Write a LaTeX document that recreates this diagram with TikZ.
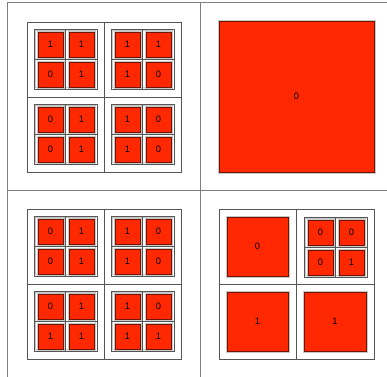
\documentclass[tikz,border=0pt]{standalone}
\usepackage{fontspec}
\setmainfont{Liberation Sans}
\definecolor{vermelho}{RGB}{255,40,0}
\definecolor{bordaverm}{RGB}{110,20,0}
\definecolor{cinzagrade}{RGB}{85,85,85}
\definecolor{cinzaquadro}{RGB}{125,125,125}
\definecolor{cinzaclaro}{RGB}{200,200,200}
\newcounter{folhas}
\tikzset{
  quadro/.style={draw=cinzaquadro, line width=0.8pt},
  grade/.style={draw=cinzagrade, line width=0.6pt},
  halo/.style={draw=cinzaclaro, line width=0.8pt},
  folha/.style={fill=vermelho, draw=bordaverm, line width=0.6pt},
  rotulo/.style={font=\fontsize{8}{9}\selectfont, inner sep=0pt}
}
% caixa com cruz
\newcommand{\grade}[4]{%
  \draw[grade] (#1,#2) rectangle ++(#3,#4);
  \draw[grade] (#1+#3/2,#2) -- ++(0,#4);
  \draw[grade] (#1,#2+#4/2) -- ++(#3,0);
}
% folha vermelha com rotulo
\newcommand{\folha}[5]{%
  \stepcounter{folhas}
  \draw[halo] (#1-1,#2-1) rectangle (#1+#3+1,#2+#4+1);
  \draw[folha] (#1,#2) rectangle ++(#3,#4);
  \node[rotulo] (f\thefolhas) at (#1+#3/2,#2+#4/2) {#5};
}
% bloco 2x2 de folhas
\newcommand{\bloco}[6]{%
  \draw[halo] (#1+1.2,#2+1.2) rectangle ++(60.6,57.6);
  \grade{#1}{#2}{63}{60}
  \folha{#1+4}{#2+3}{25}{25}{#3}
  \folha{#1+35}{#2+3}{25}{25}{#4}
  \folha{#1+4}{#2+33}{25}{25}{#5}
  \folha{#1+35}{#2+33}{25}{25}{#6}
}
\begin{document}
\begin{tikzpicture}[x=0.03cm, y=-0.03cm]
\useasboundingbox (0,0) rectangle (387,377);
% Quadro externo
\draw[quadro] (7,2.5) -- (387,2.5);
\draw[quadro] (7,190) -- (387,190);
\draw[quadro] (7,2.5) -- (7,377);
\draw[quadro] (200,2.5) -- (200,377);

% Painel superior esquerdo
\begin{scope}
\grade{27}{22}{154}{150}
\bloco{34}{29}{1}{1}{0}{1}
\bloco{111}{29}{1}{1}{1}{0}
\bloco{34}{104}{0}{1}{0}{1}
\bloco{111}{104}{1}{0}{1}{0}
\end{scope}

% Painel superior direito
\begin{scope}
\folha{219}{21}{155}{151}{0}
\end{scope}

% Painel inferior esquerdo
\begin{scope}[shift={(0,187)}]
\grade{27}{22}{154}{150}
\bloco{34}{29}{0}{1}{0}{1}
\bloco{111}{29}{1}{0}{1}{0}
\bloco{34}{104}{0}{1}{1}{1}
\bloco{111}{104}{1}{0}{1}{1}
\end{scope}

% Painel inferior direito
\begin{scope}[shift={(0,187)}]
\grade{219}{22}{155}{150}
\folha{227}{30}{61}{59}{0}
\bloco{304}{30}{0}{0}{0}{1}
\folha{227}{105}{61}{59}{1}
\folha{304}{105}{62}{59}{1}
\end{scope}
\end{tikzpicture}
\end{document}
